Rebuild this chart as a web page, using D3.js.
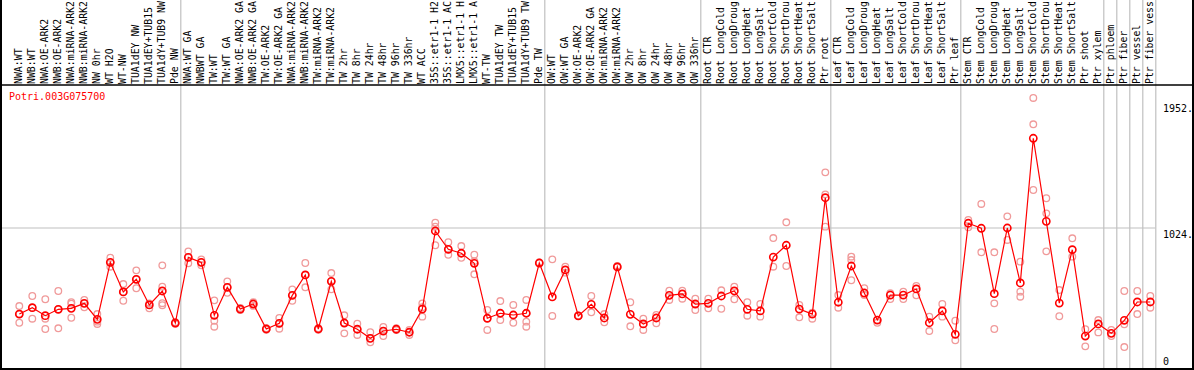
<!DOCTYPE html>
<html><head><meta charset="utf-8">
<script src="https://cdn.jsdelivr.net/npm/d3@7"></script>
<style>body{margin:0;background:#fff}svg{display:block}text{font-family:"DejaVu Sans Mono",monospace;font-size:10px}</style>
</head><body>
<script>
const title = "Potri.003G075700";
const categories = ["NWA:WT","NWB:WT","NWA:OE-ARK2","NWB:OE-ARK2","NWA:miRNA-ARK2","NWB:miRNA-ARK2","NW 0hr","WT H2O","WT-NW","TUA1dEY NW","TUA1dEY+TUB15","TUA1dY+TUB9 NW","Pde NW",
"NWA:WT GA","NWBWT GA","TW:WT","TW:WT GA","NWA:OE-ARK2 GA","NWB:OE-ARK2 GA","TW:OE-ARK2","TW:OE-ARK2 GA","NWA:miRNA-ARK2","NWB:miRNA-ARK2","TW:miRNA-ARK2","TW:miRNA-ARK2","TW 2hr","TW 8hr","TW 24hr","TW 48hr","TW 96hr","TW 336hr","WT ACC","35S::etr1-1 H2","35S::etr1-1 AC","LMX5::etr1-1 H","LMX5::etr1-1 A","WT-TW","TUA1dEY TW","TUA1dEY+TUB15","TUA1dY+TUB9 TW","Pde TW",
"OW:WT","OW:WT GA","OW:OE-ARK2","OW:OE-ARK2 GA","OW:miRNA-ARK2","OW:miRNA-ARK2","OW 2hr","OW 8hr","OW 24hr","OW 48hr","OW 96hr","OW 336hr",
"Root CTR","Root LongCold","Root LongDroug","Root LongHeat","Root LongSalt","Root ShortCold","Root ShortDrou","Root ShortHeat","Root ShortSalt","Ptr root",
"Leaf CTR","Leaf LongCold","Leaf LongDroug","Leaf LongHeat","Leaf LongSalt","Leaf ShortCold","Leaf ShortDrou","Leaf ShortHeat","Leaf ShortSalt","Ptr leaf",
"Stem CTR","Stem LongCold","Stem LongDroug","Stem LongHeat","Stem LongSalt","Stem ShortCold","Stem ShortDrou","Stem ShortHeat","Stem ShortSalt","Ptr shoot","Ptr xylem",
"Ptr phloem","Ptr fiber","Ptr vessel","Ptr fiber vess"];
// index of last category in each group (group separators drawn after these)
const groupEnds = [-1, 12, 40, 52, 62, 72, 83, 84, 85, 86, 87];
const means = [390,437,378,425,432,469,351,771,553,646,457,560,324,
808,771,381,587,427,464,280,322,528,678,280,631,324,278,211,265,278,256,427,1002,867,838,764,359,396,383,396,766,
516,715,376,462,361,737,388,317,361,528,538,464,
469,523,560,425,413,810,897,427,390,1247,
477,744,545,346,530,530,575,326,413,241,
1059,1022,540,1024,619,1685,1073,471,864,228,317,
248,344,479,479];
const replicates = [[449,390,326],[523,437,356],[499,356,280],[560,425,285],[477,466,363],[494,469,440],[390,334,317],[805,771,739],[611,553,488],[712,580,646],[469,457,432],[749,592,470,455],[330,324,318],
[852,808,764],[793,771,750],[491,341,297],[631,587,547],[435,427,420],[477,464,450],[285,280,275],[361,322,282],[572,528,488],[766,678,587],[285,280,275],[692,631,572],[381,324,248],[319,278,236],[256,211,182],[295,265,228],[285,278,272],[273,256,236],[469,440,371],[1063,1034,897],[919,867,827],[891,838,805],[827,780,683],[420,359,273],[486,396,346],[457,383,326],[494,396,334,297],[766,770],
[793,376],[739,695],[376,380],[523,403],[390,329],[745,737],[477,300],[356,273],[383,322],[562,494],[562,503],[503,420],
[503,432],[565,429],[592,499],[477,378],[464,371],[950,739],[1066,744],[457,366],[400,356],[1434,1272,1034],
[530,437],[813,788,639],[580,530],[346,326],[543,501],[555,501],[597,528],[371,265],[464,371],[341,197],
[1083,1029],[1201,845],[845,469,280],[1110,936],[776,555,518],[1982,1788,1304],[1243,1132,852],[567,374],[948,813],[278,152],[346,255],
[273,228],[560,315,147],[560,390],[523,437]];
const yTickValues = [0, 1024, 1952];
const yTickLabels = ["0", "1024.", "1952."];

const W = 1194, H = 370;
const svg = d3.select("body").append("svg").attr("width", W).attr("height", H);
const x = d3.scaleBand().domain(d3.range(categories.length)).range([12.8, 12.8 + 13*categories.length]).padding(0);
const cx = i => x(i) + x.bandwidth()/2;
const y = d3.scaleLinear().domain([0, 1024]).range([367, 228]);
const plotTop = 85, plotBottom = 369, plotRight = 1155.3;

// group separators
svg.append("g").selectAll("line").data(groupEnds).join("line")
  .attr("x1", d => cx(d) + 5.5).attr("x2", d => cx(d) + 5.5)
  .attr("y1", 0).attr("y2", plotBottom)
  .attr("stroke", "#c0c0c0").attr("stroke-width", 1.2);

// horizontal grid at 1024
svg.append("line").attr("x1", 1).attr("x2", plotRight).attr("y1", y(1024)).attr("y2", y(1024))
  .attr("stroke", "#c0c0c0").attr("stroke-width", 1.2);

// frame
svg.append("line").attr("x1", 0).attr("x2", W).attr("y1", plotTop).attr("y2", plotTop).attr("stroke", "#000").attr("stroke-width", 1.5);
svg.append("line").attr("x1", 0).attr("x2", W).attr("y1", plotBottom).attr("y2", plotBottom).attr("stroke", "#000").attr("stroke-width", 2);
svg.append("line").attr("x1", 1).attr("x2", 1).attr("y1", 0).attr("y2", H).attr("stroke", "#000").attr("stroke-width", 2);
svg.append("line").attr("x1", 1193).attr("x2", 1193).attr("y1", 0).attr("y2", H).attr("stroke", "#000").attr("stroke-width", 2);

// category labels (rotated)
svg.append("g").selectAll("text").data(categories).join("text")
  .attr("transform", (d, i) => `translate(${cx(i) + 2.6},84) rotate(-90)`)
  .style("font-size", "9.85px")
  .attr("fill", "#000").text(d => d);

// right axis
const axis = d3.axisRight(y).tickValues(yTickValues).tickSize(0)
  .tickFormat((d, i) => yTickLabels[i]);
const ag = svg.append("g").attr("transform", `translate(1161,0)`).call(axis);
ag.select(".domain").remove();
ag.selectAll("text").attr("x", 2).attr("dy", d => d === 0 ? "-0.3em" : "0.9em")
  .attr("fill", "#000").style("font-family", '"DejaVu Sans Mono",monospace').style("font-size", "10px");

// title
svg.append("text").attr("x", 9).attr("y", 100).attr("fill", "#ff0000").text(title);

// replicates
const repPts = replicates.flatMap((arr, i) => arr.map(v => ({i, v})));
svg.append("g").selectAll("circle").data(repPts).join("circle")
  .attr("cx", d => cx(d.i)).attr("cy", d => y(d.v)).attr("r", 3.3)
  .attr("fill", "none").attr("stroke", "#f09a9a").attr("stroke-width", 1.3);

// mean line
svg.append("path").datum(means)
  .attr("d", d3.line().x((d, i) => cx(i)).y(d => y(d)))
  .attr("fill", "none").attr("stroke", "#ff0000").attr("stroke-width", 1.2);

// mean markers
svg.append("g").selectAll("circle").data(means).join("circle")
  .attr("cx", (d, i) => cx(i)).attr("cy", d => y(d)).attr("r", 3.6)
  .attr("fill", "none").attr("stroke", "#ff0000").attr("stroke-width", 1.6);
</script>
</body></html>
